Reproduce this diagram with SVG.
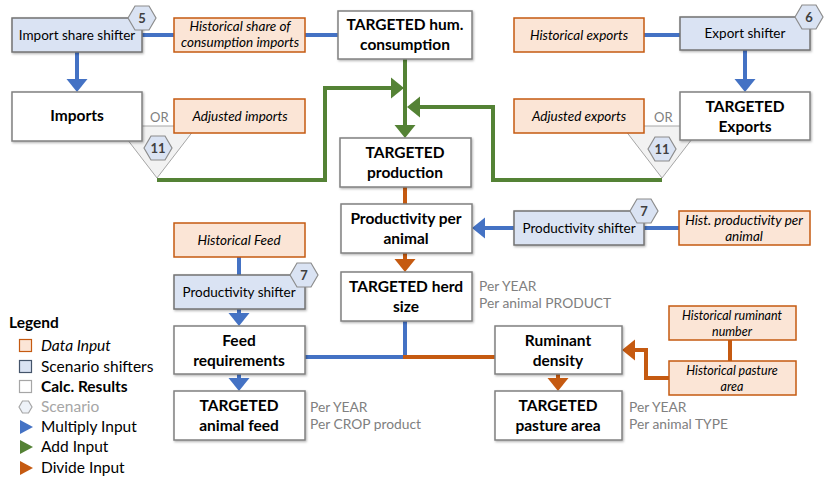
<svg xmlns="http://www.w3.org/2000/svg" width="836" height="484" viewBox="0 0 836 484">
<defs>
<filter id="sh" x="-10%" y="-10%" width="120%" height="130%"><feDropShadow dx="1" dy="1.2" stdDeviation="0.8" flood-color="#000" flood-opacity="0.3"/></filter>
<style>
text{font-family:Lato,"Liberation Sans",sans-serif;fill:#000}
.calc{fill:#fff;stroke:#808080;stroke-width:1.5;filter:url(#sh)}
.shift{fill:#dae3f3;stroke:#737373;stroke-width:1.5;filter:url(#sh)}
.data{fill:#fbe5d6;stroke:#c55a11;stroke-width:1.5}
.hex{fill:#dae3f3;stroke:#8c8c8c;stroke-width:1.2}
.tri{fill:#f2f2f2;stroke:#a6a6a6;stroke-width:1}
.b{font-weight:bold;font-size:15.5px;text-anchor:middle}
.r{font-size:13.5px;text-anchor:middle}
.i{font-size:13.5px;font-style:italic;text-anchor:middle}
.hn{font-weight:bold;font-size:13px;text-anchor:middle;fill:#404040}
.note{font-size:13.8px;fill:#808080}
.or{font-size:13px;fill:#808080}
.lg{font-size:15.5px}
.blue{stroke:#4472c4;stroke-width:4;fill:none}
.green{stroke:#548235;stroke-width:4;fill:none}
.orange{stroke:#c55a11;stroke-width:4;fill:none}
</style>
<marker id="ab" markerUnits="userSpaceOnUse" markerWidth="14" markerHeight="22" refX="0" refY="11" orient="auto"><path d="M0,0.5 L13,11 L0,21.5 z" fill="#4472c4"/></marker>
<marker id="ag" markerUnits="userSpaceOnUse" markerWidth="14" markerHeight="22" refX="0" refY="11" orient="auto"><path d="M0,0.5 L13,11 L0,21.5 z" fill="#548235"/></marker>
<marker id="ao" markerUnits="userSpaceOnUse" markerWidth="14" markerHeight="22" refX="0" refY="11" orient="auto"><path d="M0,0.5 L13,11 L0,21.5 z" fill="#c55a11"/></marker>
</defs>
<rect width="836" height="484" fill="#fff"/>

<!-- OR triangles (background) -->
<g id="or-imports">
<polygon class="tri" points="117,126 197,126 157,178"/>
</g>
<g id="or-exports">
<polygon class="tri" points="622,126 702,126 662,178"/>
</g>

<g id="connectors">
<path class="blue" d="M77,52 V79" marker-end="url(#ab)"/>
<path class="blue" d="M142,35 H174"/>
<path class="blue" d="M305,35 H338"/>
<path class="blue" d="M644,35 H680"/>
<path class="blue" d="M745,50 V79" marker-end="url(#ab)"/>
<path class="green" d="M405,59 V125" marker-end="url(#ag)"/>
<path class="green" d="M157,180 H325 V88 H391" marker-end="url(#ag)"/>
<path class="green" d="M662,180 H493 V107 H420" marker-end="url(#ag)"/>
<path class="orange" d="M405,187 V204"/>
<path class="orange" d="M405,253 V259" marker-end="url(#ao)"/>
<path class="blue" d="M514,228 H485" marker-end="url(#ab)"/>
<path class="blue" d="M644,228 H679"/>
<path class="blue" d="M239,257 V275"/>
<path class="blue" d="M239,309 V313" marker-end="url(#ab)"/>
<path class="blue" d="M239,374 V378" marker-end="url(#ab)"/>
<path class="blue" d="M305,357 H405 V321"/>
<path class="orange" d="M403,357 H495"/>
<path class="orange" d="M558,374 V378" marker-end="url(#ao)"/>
<path class="orange" d="M730,340 V361"/>
<path class="orange" d="M669,378 H646 V350 H635" marker-end="url(#ao)"/>
</g>

<g id="import-share-shifter">
<rect class="shift" x="12" y="18" width="130" height="34"/>
<text class="r" x="77" y="40">Import share shifter</text>
<polygon class="hex" points="128,18 135,6 149,6 156,18 149,30 135,30"/>
<text class="hn" x="142" y="23">5</text>
</g>
<g id="hist-share-imports">
<rect class="data" x="174" y="18" width="131" height="34"/>
<text class="i" x="240" y="31">Historical share of</text>
<text class="i" x="240" y="47">consumption imports</text>
</g>
<g id="targeted-hum-consumption">
<rect class="calc" x="338" y="11" width="134" height="48"/>
<text class="b" x="405" y="30">TARGETED hum.</text>
<text class="b" x="405" y="50">consumption</text>
</g>
<g id="historical-exports">
<rect class="data" x="514" y="18" width="130" height="34"/>
<text class="i" x="579" y="40">Historical exports</text>
</g>
<g id="export-shifter">
<rect class="shift" x="680" y="17" width="130" height="33"/>
<text class="r" x="745" y="38">Export shifter</text>
<polygon class="hex" points="795,17 802,5 816,5 823,17 816,29 802,29"/>
<text class="hn" x="809" y="22">6</text>
</g>
<g id="imports">
<rect class="calc" x="12" y="92" width="130" height="49"/>
<text class="b" x="77" y="121">Imports</text>
</g>
<g id="adjusted-imports">
<text class="or" x="150" y="122">OR</text>
<rect class="data" x="174" y="99" width="131" height="34"/>
<text class="i" x="240" y="121">Adjusted imports</text>
<polygon class="hex" points="144,148 151,136 165,136 172,148 165,160 151,160"/>
<text class="hn" x="158" y="153">11</text>
</g>
<g id="adjusted-exports">
<rect class="data" x="514" y="99" width="130" height="34"/>
<text class="i" x="579" y="121">Adjusted exports</text>
<text class="or" x="654" y="122">OR</text>
<polygon class="hex" points="648,149 655,137 669,137 676,149 669,161 655,161"/>
<text class="hn" x="662" y="154">11</text>
</g>
<g id="targeted-exports">
<rect class="calc" x="680" y="92" width="130" height="48"/>
<text class="b" x="745" y="112">TARGETED</text>
<text class="b" x="745" y="132">Exports</text>
</g>
<g id="targeted-production">
<rect class="calc" x="340" y="138" width="131" height="49"/>
<text class="b" x="405" y="158">TARGETED</text>
<text class="b" x="405" y="178">production</text>
</g>
<g id="productivity-per-animal">
<rect class="calc" x="341" y="204" width="131" height="49"/>
<text class="b" x="406" y="224">Productivity per</text>
<text class="b" x="406" y="244">animal</text>
</g>
<g id="productivity-shifter-right">
<rect class="shift" x="514" y="211" width="130" height="34"/>
<text class="r" x="579" y="233">Productivity shifter</text>
<polygon class="hex" points="630,211 637,199 651,199 658,211 651,223 637,223"/>
<text class="hn" x="644" y="216">7</text>
</g>
<g id="hist-productivity">
<rect class="data" x="679" y="211" width="131" height="34"/>
<text class="i" x="744" y="225">Hist. productivity per</text>
<text class="i" x="744" y="241">animal</text>
</g>
<g id="targeted-herd-size">
<rect class="calc" x="341" y="272" width="131" height="49"/>
<text class="b" x="406" y="292">TARGETED herd</text>
<text class="b" x="406" y="312">size</text>
<text class="note" x="479" y="291">Per YEAR</text>
<text class="note" x="479" y="308">Per animal PRODUCT</text>
</g>
<g id="historical-feed">
<rect class="data" x="174" y="223" width="131" height="34"/>
<text class="i" x="239" y="245">Historical Feed</text>
</g>
<g id="productivity-shifter-left">
<rect class="shift" x="174" y="275" width="131" height="34"/>
<text class="r" x="239" y="297">Productivity shifter</text>
<polygon class="hex" points="290,275 297,263 311,263 318,275 311,287 297,287"/>
<text class="hn" x="304" y="280">7</text>
</g>
<g id="feed-requirements">
<rect class="calc" x="174" y="326" width="131" height="48"/>
<text class="b" x="239" y="346">Feed</text>
<text class="b" x="239" y="366">requirements</text>
</g>
<g id="targeted-animal-feed">
<rect class="calc" x="174" y="391" width="131" height="49"/>
<text class="b" x="239" y="411">TARGETED</text>
<text class="b" x="239" y="431">animal feed</text>
<text class="note" x="310" y="412">Per YEAR</text>
<text class="note" x="310" y="429">Per CROP product</text>
</g>
<g id="ruminant-density">
<rect class="calc" x="495" y="326" width="127" height="48"/>
<text class="b" x="558" y="346">Ruminant</text>
<text class="b" x="558" y="366">density</text>
</g>
<g id="targeted-pasture-area">
<rect class="calc" x="495" y="391" width="127" height="49"/>
<text class="b" x="558" y="411">TARGETED</text>
<text class="b" x="558" y="431">pasture area</text>
<text class="note" x="629" y="412">Per YEAR</text>
<text class="note" x="629" y="429">Per animal TYPE</text>
</g>
<g id="hist-ruminant-number">
<rect class="data" x="669" y="306" width="127" height="34"/>
<text class="i" x="732" y="320" style="font-size:12.5px">Historical ruminant</text>
<text class="i" x="732" y="336" style="font-size:12.5px">number</text>
</g>
<g id="hist-pasture-area">
<rect class="data" x="669" y="361" width="127" height="34"/>
<text class="i" x="732" y="375" style="font-size:12.5px">Historical pasture</text>
<text class="i" x="732" y="391" style="font-size:12.5px">area</text>
</g>

<g id="legend">
<text x="9" y="328" style="font-size:15.5px;font-weight:bold">Legend</text>
<rect x="19.5" y="339.5" width="12" height="12" fill="#fbe5d6" stroke="#c55a11" stroke-width="1.2"/>
<text class="lg" x="41" y="351" style="font-style:italic">Data Input</text>
<rect x="19.5" y="360.5" width="12" height="12" fill="#dae3f3" stroke="#44546a" stroke-width="1.2"/>
<text class="lg" x="41" y="372">Scenario shifters</text>
<rect x="19.5" y="380.5" width="12" height="12" fill="#fff" stroke="#a6a6a6" stroke-width="1.2"/>
<text class="lg" x="41" y="392" style="font-weight:bold">Calc. Results</text>
<polygon points="19,407 22.5,401 28.5,401 32,407 28.5,413 22.5,413" fill="#eef2f8" stroke="#a6a6a6" stroke-width="1.2"/>
<text class="lg" x="41" y="412" style="fill:#a6a6a6">Scenario</text>
<polygon points="20,420 33,427 20,434" fill="#4472c4"/>
<text class="lg" x="41" y="432">Multiply Input</text>
<polygon points="20,440 33,447 20,454" fill="#548235"/>
<text class="lg" x="41" y="452">Add Input</text>
<polygon points="20,461 33,468 20,475" fill="#c55a11"/>
<text class="lg" x="41" y="473">Divide Input</text>
</g>
</svg>
